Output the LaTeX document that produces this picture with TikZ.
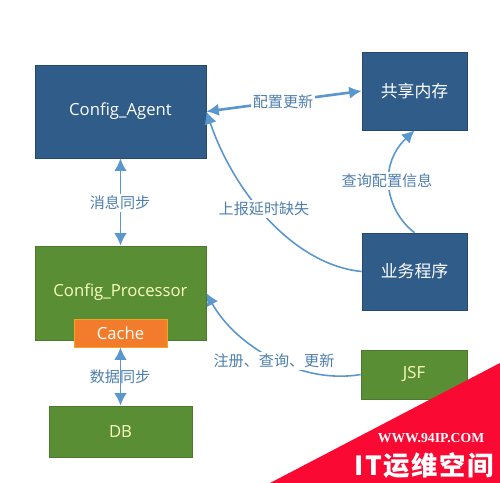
\documentclass[tikz,border=0pt]{standalone}
\usepackage{fontspec}
\setmainfont{Open Sans}
\newfontfamily\cjk{Noto Sans CJK SC}
\newfontfamily\markfont{Liberation Serif}
\usetikzlibrary{arrows.meta}
\definecolor{boxblue}{HTML}{2F5C88}
\definecolor{boxgreen}{HTML}{5A8E35}
\definecolor{boxorange}{HTML}{F27C2C}
\definecolor{linkblue}{HTML}{5B97CF}
\definecolor{labelblue}{HTML}{4F7FAE}
\definecolor{markred}{HTML}{FA0A32}
\tikzset{
box/.style={rectangle, inner sep=0pt, text=white, font=\fontsize{9.6}{11}\selectfont\cjk},
bluebox/.style={box, fill=boxblue, draw=boxblue!80!black, line width=0.4pt},
greenbox/.style={box, fill=boxgreen, draw=boxgreen!85!black, line width=0.4pt, text=green!8!yellow!25!white},
latin/.style={font=\fontsize{9.5}{11}\selectfont\rmfamily},
link/.style={draw=linkblue, line width=0.9pt, -{Latex[length=0.25cm, width=0.25cm]}},
twolink/.style={link, {Latex[length=0.25cm, width=0.25cm]}-{Latex[length=0.25cm, width=0.25cm]}},
label/.style={fill=white, inner sep=1pt, text=labelblue, font=\fontsize{8.6}{10}\selectfont\cjk}
}
\begin{document}
\begin{tikzpicture}[x=0.02cm, y=-0.02cm]
\useasboundingbox (0,0) rectangle (500,483);
\fill[white] (0,0) rectangle (500,483);
\node[bluebox, latin, minimum width=3.42cm, minimum height=1.86cm] (agent) at (120.5,111.5) {Config\_Agent};
\node[bluebox, minimum width=2.1cm, minimum height=1.56cm] (memory) at (414.5,91) {共享内存};
\node[bluebox, minimum width=2.1cm, minimum height=1.54cm] (business) at (414.5,271.5) {业务程序};
\node[greenbox, minimum width=3.42cm, minimum height=1.88cm] (processor) at (120.5,293) {};
\node[text=green!8!yellow!25!white, inner sep=0pt, latin] (processortext) at (120.5,292) {Config\_Processor};
\node[box, latin, fill=boxorange, draw=boxorange!70!yellow, line width=0.4pt, minimum width=1.86cm, minimum height=0.56cm] (cache) at (120.5,333) {Cache};
\node[greenbox, latin, minimum width=2.86cm, minimum height=1.02cm] (db) at (120.5,431.5) {DB};
\node[greenbox, latin, minimum width=2.12cm, minimum height=0.98cm] (jsf) at (414,374.5) {JSF};
\draw[twolink, line width=1.5pt] (agent.east) -- (memory.west);
\draw[twolink, line width=1.1pt] (agent.south) -- (processor.north);
\draw[twolink, line width=1.1pt] (cache.south) -- (db.north);
\draw[link] (business.west) .. controls (295,265) and (235,195) .. (agent.east);
\draw[link] (business.north) .. controls (385,210) and (378,165) .. (memory.south);
\draw[link] (jsf.west) .. controls (300,385) and (235,345) .. (processor.east);
\node[label] (update) at (283,102) {配置更新};
\node[label] (sync) at (120,203) {消息同步};
\node[label] (report) at (264,209) {上报延时缺失};
\node[label] (query) at (387,181) {查询配置信息};
\node[label] (register) at (274,361) {注册、查询、更新};
\node[label, fill=none] (dbsync) at (120,377) {数据同步};
\fill[markred] (270,483) -- (500,363) -- (500,483) -- cycle;
\node[text=white, inner sep=0pt, font=\fontsize{7.8}{9}\selectfont\markfont\bfseries] (site) at (431,438) {WWW.94IP.COM};
\node[text=white, inner sep=0pt, font=\fontsize{15}{17}\selectfont\cjk\bfseries\addfontfeature{LetterSpace=6}] (brand) at (424,466) {IT运维空间};
\end{tikzpicture}
\end{document}
